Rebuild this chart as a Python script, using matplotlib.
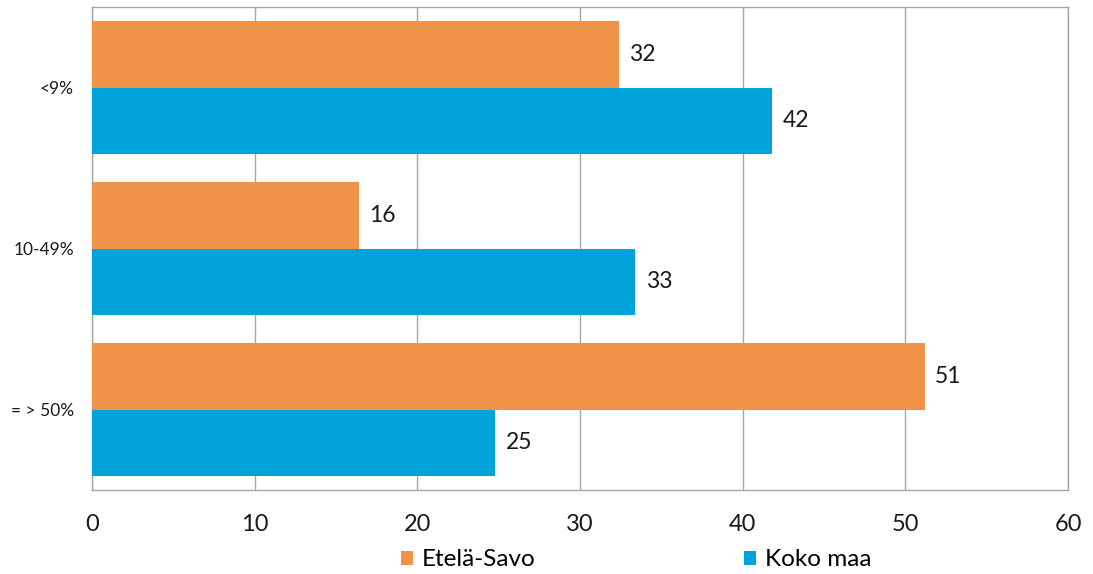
import matplotlib
matplotlib.use("Agg")
import matplotlib.pyplot as plt
from matplotlib.patches import Patch
import numpy as np

categories = ["<9%", "10-49%", "= > 50%"]
etela_savo = [32.4, 16.4, 51.2]
koko_maa = [41.8, 33.4, 24.8]
series_names = ["Etelä-Savo", "Koko maa"]
x_ticks = [0, 10, 20, 30, 40, 50, 60]

c_orange = "#F19249"
c_blue = "#00A4DA"
grid_c = "#A6A6A6"

plt.rcParams['font.family'] = ['Lato', 'DejaVu Sans']

fig = plt.figure(figsize=(10.93, 5.74), dpi=100)
ax = fig.add_axes([92/1093, 1-490/574, (1068-92)/1093, (490-7)/574])

y = np.arange(len(categories))
h = 0.415
b1 = ax.barh(y - h/2, etela_savo, height=h, color=c_orange, zorder=3)
b2 = ax.barh(y + h/2, koko_maa, height=h, color=c_blue, zorder=3)

for bars, vals in ((b1, etela_savo), (b2, koko_maa)):
    for bar, v in zip(bars, vals):
        ax.annotate(f"{v:.0f}", xy=(v, bar.get_y() + bar.get_height()/2),
                    xytext=(7.5, 0), textcoords="offset points",
                    ha="left", va="center", fontsize=16.5, color="#1a1a1a")

ax.set_xlim(0, 60)
ax.set_ylim(2.5, -0.5)
ax.set_xticks(x_ticks)
ax.set_xticklabels([str(t) for t in x_ticks], fontsize=17)
ax.set_yticks(y)
ax.set_yticklabels(categories, fontsize=12.5)
ax.tick_params(axis='x', length=0, pad=17, colors="#1a1a1a")
ax.tick_params(axis='y', length=0, pad=13, colors="#1a1a1a")
ax.xaxis.grid(True, color=grid_c, linewidth=1, zorder=0)
ax.set_axisbelow(True)
for s in ax.spines.values():
    s.set_color(grid_c)
    s.set_linewidth(1)

handles = [Patch(facecolor=c_orange), Patch(facecolor=c_blue)]
fig.legend(handles, series_names, loc="center", bbox_to_anchor=(636/1093, 1-560/574),
           ncol=2, frameon=False, fontsize=17.5, handlelength=0.5, handleheight=0.5,
           handletextpad=0.35, columnspacing=8.6, borderaxespad=0)

fig.savefig("out.png", dpi=100)
